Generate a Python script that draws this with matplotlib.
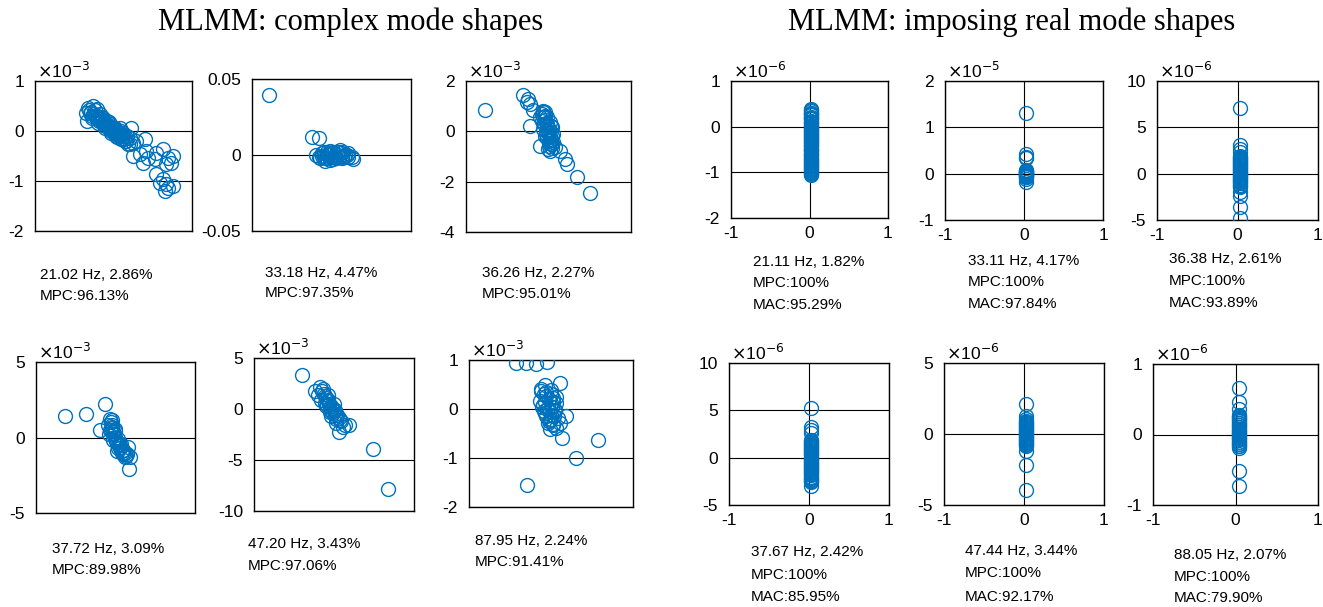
import matplotlib
matplotlib.use("Agg")
import matplotlib.pyplot as plt

plt.rcParams['font.family'] = ['Liberation Sans', 'DejaVu Sans']
plt.rcParams['axes.unicode_minus'] = False

# --------------------------
# Data
# complex mode shapes: real / imag parts, y in units of 10^exp
# --------------------------
c1_re = [-0.563, -0.515, -0.413, -0.346, -0.447, -0.536, -0.380, -0.278, -0.210, -0.312,
         -0.142, -0.075, -0.176, -0.007, 0.061, -0.041, 0.129, 0.197, 0.265, 0.163,
         0.332, 0.366, 0.400, 0.298, 0.468, 0.637, 0.671, 0.536, 0.400, 0.604,
         0.705, 0.875, 1.010, 1.112, 1.214, 1.180, 1.078, 0.841, 0.875, 1.010,
         1.078, 1.112, 1.214, 1.044, 0.943, 0.061, 0.027, -0.244, -0.108, 0.095,
         0.231, 0.129, -0.481, -0.346, -0.210, -0.075, 0.027, 0.163, 0.231, 0.332,
         -0.50, -0.45, -0.40, -0.36, -0.32, -0.28, -0.25, -0.20, -0.16, -0.12,
         -0.09, -0.05, -0.02, 0.02, 0.06, 0.10, 0.14, 0.18, 0.22, 0.26,
         -0.43, -0.30, -0.18, -0.05, 0.08, -0.38, -0.24, -0.10, 0.04, 0.17]
c1_im = [0.367, 0.467, 0.500, 0.433, 0.267, 0.200, 0.300, 0.333, 0.267, 0.167,
         0.200, 0.133, 0.067, 0.067, 0.000, -0.033, -0.067, -0.033, -0.100, -0.167,
         -0.133, 0.067, -0.233, -0.267, -0.200, -0.167, -0.400, -0.467, -0.500, -0.633,
         -0.533, -0.433, -0.367, -0.533, -0.500, -0.633, -0.667, -0.567, -0.867, -0.967,
         -1.067, -1.133, -1.100, -1.200, -1.033, -0.100, 0.033, 0.233, 0.100, -0.033,
         -0.200, 0.067, 0.367, 0.267, 0.167, 0.033, -0.067, 0.000, -0.100, -0.267,
         0.42, 0.38, 0.35, 0.30, 0.28, 0.24, 0.20, 0.18, 0.14, 0.12,
         0.08, 0.05, 0.02, -0.01, -0.04, -0.08, -0.10, -0.13, -0.16, -0.20,
         0.30, 0.20, 0.10, 0.00, -0.12, 0.42, 0.29, 0.18, 0.06, -0.05]

c2_re = [-0.0411, -0.0128, -0.0085, -0.0100, -0.0063, -0.0030, 0.0002, 0.0035, 0.0057, 0.0068,
         0.0100, 0.0133, 0.0139, -0.0020, 0.0013, -0.0041, 0.0024, 0.0046, -0.0009, -0.0052,
         0.0078, 0.0111, -0.0074, -0.006, -0.004, -0.002, 0.000, 0.002, 0.004, 0.006,
         0.008, -0.005, -0.001, 0.003, 0.005, 0.007, 0.009, 0.001, -0.003, 0.011, -0.008]
c2_im = [0.0397, 0.0121, 0.0110, 0.0002, -0.0004, -0.0020, -0.0011, 0.0018, 0.0033, -0.0004,
         0.0002, -0.0011, -0.0026, 0.0007, -0.0026, -0.0037, -0.0004, -0.0015, 0.0029, 0.0018,
         0.0018, 0.0011, -0.0020, 0.001, -0.002, 0.000, 0.001, -0.001, 0.000, 0.001,
         -0.001, -0.001, -0.003, -0.002, 0.002, -0.002, 0.000, 0.002, 0.002, -0.001, -0.001]

c3_re = [-2.529, -1.003, -0.804, -0.843, -0.737, -0.604, -0.737, -0.339, -0.206, -0.140,
         -0.272, -0.074, -0.007, -0.140, 0.059, 0.125, -0.007, 0.059, 0.258, 0.457,
         0.656, 0.722, 1.121, 1.651, 0.192, 0.125, -0.074, -0.206, 0.019, 0.192,
         -0.339, -0.140, 0.059, -0.25, -0.20, -0.15, -0.10, -0.05, 0.00, 0.02,
         0.05, 0.08, 0.10, 0.12, -0.18, -0.10, -0.05, 0.00, 0.15, 0.10, -0.20, 0.03, -0.08]
c3_im = [0.863, 1.461, 1.288, 1.155, 1.089, 0.850, 0.226, -0.571, 0.823, 0.624,
         0.425, 0.292, 0.027, -0.173, -0.305, -0.505, -0.704, -0.770, -0.637, -0.797,
         -1.102, -1.301, -1.806, -2.470, -0.106, 0.159, 0.558, 0.093, -0.372, -0.438,
         0.558, 0.757, 0.359, 0.70, 0.55, 0.45, 0.35, 0.20, 0.10, -0.05,
         -0.20, -0.35, -0.50, -0.65, 0.30, 0.00, -0.25, -0.45, -0.20, 0.20, 0.75, -0.60, -0.10]

c4_re = [-3.328, -1.943, -0.690, -1.020, -0.360, -0.250, -0.470, -0.360, -0.141, -0.031,
         0.079, 0.189, 0.409, 0.629, 0.849, 0.958, 0.914, 0.519, -0.250, -0.141,
         0.299, 0.739, -0.404, -0.031, 0.123, -0.30, -0.25, -0.20, -0.15, -0.10,
         0.00, 0.05, 0.10, 0.20, 0.30, 0.40, 0.50, 0.60, 0.70, -0.30, 0.00, 0.15, 0.35]
c4_im = [1.407, 1.582, 2.198, 0.484, 1.253, 1.143, 0.813, 0.484, 0.264, -0.066,
         -0.396, -0.725, -1.055, -1.275, -0.615, -1.319, -2.110, -0.835, 0.703, -0.176,
         -0.505, -1.099, 0.264, 0.593, -0.879, 1.00, 0.80, 0.60, 0.40, 0.20,
         0.00, -0.20, -0.30, -0.50, -0.70, -0.90, -1.10, -1.00, -1.20, 0.50, 0.40, -0.10, -0.40]

c5_re = [-3.144, -1.899, -1.408, -1.081, -1.572, -0.917, -1.245, -0.590, -0.754, -0.426,
         -0.098, -0.262, 0.229, 0.557, 1.048, 1.474, 0.885, 0.491, 3.832, 5.306,
         -0.917, 0.065, -0.590, 0.229, -1.0, -0.8, -0.6, -0.5, -0.3, -0.2,
         0.0, 0.1, 0.3, 0.5, 0.7, -0.7, -0.4, 0.2, -1.2, 0.0]
c5_im = [3.311, 1.738, 2.164, 1.967, 1.410, 1.246, 0.918, 0.754, 0.262, -0.066,
         -0.393, -0.721, -0.787, -1.049, -1.541, -1.607, -1.770, -2.295, -3.934, -7.836,
         0.590, -0.066, 1.410, -1.377, 1.5, 1.1, 0.9, 0.5, 0.3, 0.1,
         -0.2, -0.5, -0.6, -0.9, -1.2, 0.4, -0.3, -1.0, 1.8, 0.5]

c6_re = [-0.709, -0.518, -0.300, -0.075, 0.177, -0.129, -0.197, -0.232, -0.095, 0.007,
         0.041, 0.109, -0.061, -0.129, 0.007, 0.075, 0.314, -0.027, 0.041, 0.109,
         0.232, 0.962, 0.518, -0.484, 0.177, -0.061, -0.164, 0.000, 0.143,
         -0.20, -0.15, -0.10, -0.05, 0.00, 0.05, -0.18, -0.12, -0.08, -0.03,
         0.02, 0.08, -0.10, -0.05, 0.00, 0.05, -0.15, 0.10, -0.02, 0.06]
c6_im = [0.939, 0.939, 0.918, 0.952, 0.531, 0.497, 0.361, 0.156, 0.259, 0.395,
         0.224, 0.122, 0.020, -0.082, -0.116, -0.014, -0.136, -0.218, -0.320, -0.388,
         -0.592, -0.626, -1.000, -1.544, -0.286, -0.286, 0.088, 0.122, -0.184,
         0.40, 0.30, 0.35, 0.20, 0.30, 0.15, 0.05, 0.15, 0.00, -0.05,
         0.05, -0.05, -0.15, -0.25, -0.20, -0.30, -0.05, 0.25, -0.40, -0.15]

# imposed real mode shapes: values along the imaginary axis are all near zero
r1_y = [0.38, 0.36, 0.34, 0.31, 0.29, 0.27, 0.25, 0.22, 0.20, 0.18, 0.16, 0.13, 0.11,
        0.09, 0.07, 0.04, 0.02, 0.00, -0.03, -0.05, -0.07, -0.09, -0.12, -0.14, -0.16,
        -0.18, -0.21, -0.23, -0.25, -0.27, -0.30, -0.32, -0.34, -0.36, -0.39, -0.41,
        -0.43, -0.45, -0.48, -0.50, -0.52, -0.54, -0.57, -0.59, -0.61, -0.63, -0.66,
        -0.68, -0.70, -0.72, -0.75, -0.77, -0.79, -0.81, -0.84, -0.86, -0.88, -0.90,
        -0.93, -0.95, -0.97, -0.99, -1.01, -1.03, -1.05]
r2_y = [1.32, 0.42, 0.36, 0.33, 0.08, 0.06, 0.05, 0.03, 0.01, 0.0, -0.01, -0.03, 0.02,
        -0.05, -0.07, -0.08, -0.11, -0.17, 0.04, -0.02]
r3_y = [7.1, 3.05, 2.7, 2.3, 1.92, 1.80, 1.71, 1.58, 1.49, 1.37, 1.26, 1.15, 1.05, 0.93,
        0.82, 0.71, 0.60, 0.50, 0.38, 0.27, 0.16, 0.05, -0.06, -0.17, -0.28, -0.39,
        -0.51, -0.62, -0.73, -0.84, -0.95, -1.06, -1.18, -1.29, -1.40, -2.0, -2.4,
        -3.6, -4.8]
r4_y = [5.2, 3.2, 2.95, 2.65, 1.90, 1.79, 1.68, 1.57, 1.46, 1.34, 1.23, 1.12, 1.01,
        0.90, 0.79, 0.67, 0.56, 0.45, 0.34, 0.23, 0.12, 0.01, -0.10, -0.21, -0.32,
        -0.43, -0.55, -0.66, -0.77, -0.88, -0.99, -1.10, -1.21, -1.33, -1.44, -1.55,
        -1.66, -1.77, -1.88, -2.00, -2.11, -2.22, -2.36, -2.50, -2.62, -3.0]
r5_y = [2.1, 1.25, 1.05, 0.92, 0.85, 0.78, 0.71, 0.64, 0.57, 0.50, 0.43, 0.36, 0.29,
        0.22, 0.15, 0.08, 0.01, -0.06, -0.13, -0.20, -0.27, -0.34, -0.41, -0.48,
        -0.55, -0.62, -0.69, -0.76, -0.83, -1.2, -2.15, -3.95]
r6_y = [0.66, 0.46, 0.36, 0.28, 0.26, 0.25, 0.23, 0.22, 0.20, 0.19, 0.17, 0.16, 0.14,
        0.13, 0.11, 0.10, 0.08, 0.07, 0.05, 0.04, 0.02, 0.01, -0.01, -0.02, -0.04,
        -0.05, -0.07, -0.08, -0.10, -0.11, -0.13, -0.14, -0.16, -0.17, -0.19, -0.52,
        -0.73]
real_x = [0.02, 0.02, 0.03, 0.02, 0.03, 0.04]

complex_re = [c1_re, c2_re, c3_re, c4_re, c5_re, c6_re]
complex_im = [c1_im, c2_im, c3_im, c4_im, c5_im, c6_im]
real_y = [r1_y, r2_y, r3_y, r4_y, r5_y, r6_y]

complex_exp = [-3, None, -3, -3, -3, -3]
real_exp = [-6, -5, -6, -6, -6, -6]

complex_yticks = [[-2, -1, 0, 1], [-0.05, 0, 0.05], [-4, -2, 0, 2],
                  [-5, 0, 5], [-10, -5, 0, 5], [-2, -1, 0, 1]]
complex_yticklabels = [['-2', '-1', '0', '1'], ['-0.05', '0', '0.05'], ['-4', '-2', '0', '2'],
                       ['-5', '0', '5'], ['-10', '-5', '0', '5'], ['-2', '-1', '0', '1']]
real_yticks = [[-2, -1, 0, 1], [-1, 0, 1, 2], [-5, 0, 5, 10],
               [-5, 0, 5, 10], [-5, 0, 5], [-1, 0, 1]]
real_xticks = [-1, 0, 1]

complex_freq = ['21.02', '33.18', '36.26', '37.72', '47.20', '87.95']
complex_damp = ['2.86', '4.47', '2.27', '3.09', '3.43', '2.24']
complex_mpc = ['96.13', '97.35', '95.01', '89.98', '97.06', '91.41']
real_freq = ['21.11', '33.11', '36.38', '37.67', '47.44', '88.05']
real_damp = ['1.82', '4.17', '2.61', '2.42', '3.44', '2.07']
real_mac = ['95.29', '97.84', '93.89', '85.95', '92.17', '79.90']

# --------------------------
# Layout (pixel boxes: left, top, right, bottom)
# --------------------------
W, H = 1323, 607
BLUE = '#0072BD'

complex_boxes = [(35, 81, 192, 231), (252, 79, 411, 231), (466, 81, 631, 232),
                 (36, 362, 195, 513), (254, 358, 414, 511), (469, 360, 633, 507)]
complex_xhalf = [1.6, 0.052, 3.285, 5.24, 7.86, 1.677]
complex_text_pos = [(40, 275, 296), (265, 273, 293), (482, 273, 294),
                    (52, 549, 570), (248, 544, 566), (475, 541, 562)]

real_boxes = [(731, 81, 888, 218), (945, 81, 1103, 220), (1157, 81, 1318, 220),
              (729, 363, 889, 505), (944, 363, 1104, 505), (1153, 364, 1318, 505)]
real_text_pos = [(753, 262, 283, 305), (968, 261, 282, 304), (1169, 259, 281, 303),
                 (751, 552, 575, 597), (965, 551, 573, 597), (1174, 555, 577, 598)]


def add_panel(fig, box):
    l, t, r, b = box
    return fig.add_axes([l / W, 1 - b / H, (r - l) / W, (b - t) / H])


def style_axes(ax, exp):
    for s in ax.spines.values():
        s.set_linewidth(1.0)
        s.set_color('black')
    ax.tick_params(length=0, pad=8, labelsize=12.5)
    if exp is not None:
        ax.text(0.01, 1.0, r'$\times$10$^{%d}$' % exp, transform=ax.transAxes,
                ha='left', va='bottom', fontsize=12.5)


fig = plt.figure(figsize=(W / 100, H / 100), dpi=100)

# left block: complex mode shapes
for i in range(6):
    ax = add_panel(fig, complex_boxes[i])
    yt = complex_yticks[i]
    for v in yt:
        ax.axhline(v, color='black', lw=0.8, zorder=1)
    ax.plot(complex_re[i], complex_im[i], 'o', mfc='none', mec=BLUE, ms=10, mew=1.0, zorder=3)
    ax.set_xlim(-complex_xhalf[i], complex_xhalf[i])
    ax.set_ylim(yt[0], yt[-1])
    ax.set_yticks(yt)
    ax.set_yticklabels(complex_yticklabels[i])
    ax.set_xticks([])
    style_axes(ax, complex_exp[i])
    x, y1, y2 = complex_text_pos[i]
    fig.text(x / W, 1 - y1 / H, f'{complex_freq[i]} Hz, {complex_damp[i]}%',
             ha='left', va='center', fontsize=11)
    fig.text(x / W, 1 - y2 / H, f'MPC:{complex_mpc[i]}%',
             ha='left', va='center', fontsize=11)

# right block: imposing real mode shapes
for i in range(6):
    ax = add_panel(fig, real_boxes[i])
    yt = real_yticks[i]
    for v in yt:
        ax.axhline(v, color='black', lw=0.8, zorder=1)
    for v in real_xticks:
        ax.axvline(v, color='black', lw=0.8, zorder=1)
    ax.plot([real_x[i]] * len(real_y[i]), real_y[i], 'o', mfc='none', mec=BLUE,
            ms=10, mew=1.0, zorder=3)
    ax.set_xlim(real_xticks[0], real_xticks[-1])
    ax.set_ylim(yt[0], yt[-1])
    ax.set_yticks(yt)
    ax.set_yticklabels([str(v) for v in yt])
    ax.set_xticks(real_xticks)
    ax.set_xticklabels([str(v) for v in real_xticks])
    style_axes(ax, real_exp[i])
    ax.tick_params(axis='x', pad=6)
    x, y1, y2, y3 = real_text_pos[i]
    fig.text(x / W, 1 - y1 / H, f'{real_freq[i]} Hz, {real_damp[i]}%',
             ha='left', va='center', fontsize=11)
    fig.text(x / W, 1 - y2 / H, 'MPC:100%', ha='left', va='center', fontsize=11)
    fig.text(x / W, 1 - y3 / H, f'MAC:{real_mac[i]}%', ha='left', va='center', fontsize=11)

# block titles
fig.text(351 / W, 1 - 22 / H, 'MLMM: complex mode shapes', ha='center', va='center',
         fontsize=22, family='Liberation Serif')
fig.text(1012 / W, 1 - 22 / H, 'MLMM: imposing real mode shapes', ha='center', va='center',
         fontsize=22, family='Liberation Serif')

fig.savefig('out.png', dpi=100)
